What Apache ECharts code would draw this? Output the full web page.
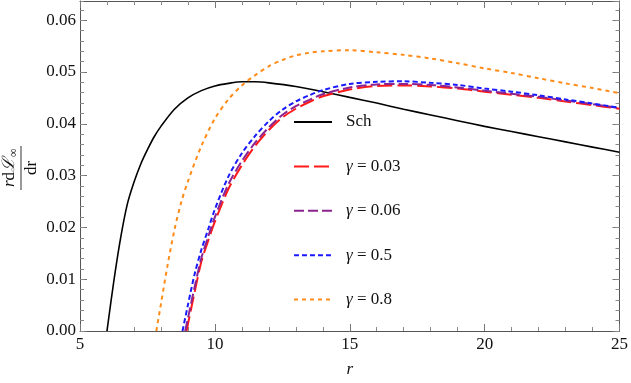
<!DOCTYPE html>
<html><head><meta charset="utf-8">
<script src="https://cdn.jsdelivr.net/npm/echarts@6/dist/echarts.min.js"></script>
<style>html,body{margin:0;padding:0;background:#fff}#c{width:631px;height:383px}</style>
</head><body><div id="c"></div>
<script>
// ---- data ----
const seriesNames = ['Sch', 'γ = 0.03', 'γ = 0.06', 'γ = 0.5', 'γ = 0.8'];
const xTicks = [5, 10, 15, 20, 25];
const yTicks = [0, 0.01, 0.02, 0.03, 0.04, 0.05, 0.06];

const rSch = [6, 6.25, 6.5, 6.75, 7, 7.25, 7.5, 7.75, 8, 8.5, 9, 9.5, 10, 10.5, 11, 11.5, 12, 13, 14, 15, 16, 17, 18, 19, 20, 21, 22, 23, 24, 25];
const vSch = [0, 0.0095, 0.0178, 0.0244, 0.0287, 0.0322, 0.0350, 0.0375, 0.0395, 0.0428, 0.0450, 0.0464, 0.0473, 0.0478, 0.0481, 0.0481, 0.0479, 0.0472, 0.0462, 0.0451, 0.0440, 0.0428, 0.0417, 0.0406, 0.0395, 0.0385, 0.0375, 0.0365, 0.0355, 0.0345];

const rG003 = [8.95, 9, 9.25, 9.5, 9.75, 10, 10.5, 11, 11.5, 12, 12.5, 13, 13.5, 14, 15, 16, 17, 18, 19, 20, 21, 22, 23, 24, 25];
const vG003 = [0, 0.0013, 0.0075, 0.0134, 0.0174, 0.0211, 0.0274, 0.0320, 0.0358, 0.0388, 0.0412, 0.0429, 0.0442, 0.0453, 0.0466, 0.0473, 0.0474, 0.0472, 0.0468, 0.0462, 0.0456, 0.0450, 0.0443, 0.0436, 0.0429];

const rG006 = [8.9, 9, 9.25, 9.5, 9.75, 10, 10.5, 11, 11.5, 12, 12.5, 13, 13.5, 14, 15, 16, 17, 18, 19, 20, 21, 22, 23, 24, 25];
const vG006 = [0, 0.0024, 0.0085, 0.0141, 0.0182, 0.0220, 0.0283, 0.0328, 0.0364, 0.0393, 0.0417, 0.0434, 0.0446, 0.0457, 0.0470, 0.0476, 0.0477, 0.0475, 0.0470, 0.0464, 0.0458, 0.0452, 0.0445, 0.0438, 0.0430];

const rG05 = [8.8, 9, 9.25, 9.5, 9.75, 10, 10.5, 11, 11.5, 12, 12.5, 13, 13.5, 14, 15, 16, 17, 18, 19, 20, 21, 22, 23, 24, 25];
const vG05 = [0, 0.0050, 0.0110, 0.0157, 0.0196, 0.0235, 0.0298, 0.0343, 0.0377, 0.0405, 0.0427, 0.0443, 0.0455, 0.0465, 0.0477, 0.0481, 0.0482, 0.0479, 0.0475, 0.0468, 0.0462, 0.0455, 0.0447, 0.0439, 0.0431];

const rG08 = [7.83, 8, 8.25, 8.5, 8.75, 9, 9.5, 10, 10.5, 11, 11.5, 12, 12.5, 13, 13.5, 14, 15, 16, 17, 18, 19, 20, 21, 22, 23, 24, 25];
const vG08 = [0, 0.0052, 0.0128, 0.0195, 0.0248, 0.0289, 0.0357, 0.0410, 0.0447, 0.0474, 0.0494, 0.0511, 0.0523, 0.0532, 0.0537, 0.0540, 0.0542, 0.0538, 0.0533, 0.0526, 0.0517, 0.0507, 0.0498, 0.0488, 0.0478, 0.0469, 0.0459];

const rs = [rSch, rG003, rG006, rG05, rG08];
const vs = [vSch, vG003, vG006, vG05, vG08];
// ---- styles ----
const colors = ['#000000', '#ff1a1a', '#8b2391', '#1a1aff', '#ff8c1a'];
const dashes = ['solid', [15, 5], [10, 4], [5, 3], [4, 4]];
const widths = [1.6, 2, 2, 2, 2];

const FONT = "'Liberation Serif','DejaVu Serif',serif";
const XMIN = 5, XMAX = 25, YMIN = 0, YMAX = 0.0637;
const axisCol = '#555';

function xAx(pos, labels) {
  return {
    type: 'value', min: XMIN, max: XMAX, interval: 5, position: pos,
    axisLine: {show: true, onZero: false, lineStyle: {color: axisCol, width: 1}},
    axisTick: {show: true, inside: true, length: 7, lineStyle: {color: '#777'}},
    minorTick: {show: true, splitNumber: 5, length: 4, lineStyle: {color: '#888'}},
    splitLine: {show: false}, minorSplitLine: {show: false},
    axisLabel: labels ? {show: true, fontFamily: FONT, fontSize: 17, color: '#111', margin: 5,
      formatter: v => xTicks.includes(v) ? String(v) : ''} : {show: false},
    name: labels ? 'r' : '', nameLocation: 'middle', nameGap: 30,
    nameTextStyle: {fontFamily: FONT, fontSize: 17, fontStyle: 'italic', color: '#111'}
  };
}
function yAx(pos, major, labels) {
  return {
    type: 'value', min: YMIN, max: YMAX, interval: major ? 0.01 : 0.002, position: pos,
    axisLine: {show: major, onZero: false, lineStyle: {color: axisCol, width: 1}},
    axisTick: {show: true, inside: true, length: major ? 7 : 4, lineStyle: {color: major ? '#777' : '#888'}},
    splitLine: {show: false},
    axisLabel: labels ? {show: true, fontFamily: FONT, fontSize: 17, color: '#111', margin: 4, showMaxLabel: false,
      formatter: v => { const t = yTicks.find(k => Math.abs(k - v) < 1e-9); return t === undefined ? '' : t.toFixed(2); }} : {show: false}
  };
}

const series = seriesNames.map((n, i) => ({
  name: n, type: 'line', xAxisIndex: 0, yAxisIndex: 0,
  data: rs[i].map((r, j) => [r, vs[i][j]]),
  showSymbol: false, symbol: 'none', smooth: 0.3, clip: true,
  lineStyle: {color: colors[i], width: widths[i], type: dashes[i]},
  itemStyle: {color: colors[i]},
  emphasis: {disabled: true}, animation: false
}));

const chart = echarts.init(document.getElementById('c'), null, {renderer: 'canvas'});
chart.setOption({
  animation: false,
  grid: {left: 80, right: 9, top: 1, bottom: 48, containLabel: false},
  xAxis: [xAx('bottom', true), xAx('top', false)],
  yAxis: [yAx('left', true, true), yAx('left', false, false), yAx('right', true, false), yAx('right', false, false)],
  legend: {
    orient: 'vertical', left: 293, top: 113, padding: 0,
    itemWidth: 38, itemHeight: 18, itemGap: 26.4,
    itemStyle: {opacity: 0, borderWidth: 0},
    data: seriesNames,
    textStyle: {fontFamily: FONT, fontSize: 17, color: '#111', padding: [0, 0, 0, 9], lineHeight: 18,
      rich: {g: {fontFamily: FONT, fontSize: 17, fontStyle: 'italic', color: '#111'}}},
    formatter: n => n.replace('γ', '{g|γ}'),
    selectedMode: false
  },
  graphic: [{
    type: 'group', x: 21, y: 168, rotation: Math.PI / 2,
    children: [
      {type: 'text', x: 10, y: -3, style: {
        text: '{i|r}d{L|ℒ}', align: 'right', verticalAlign: 'bottom',
        fontFamily: FONT, fontSize: 17, fill: '#111',
        rich: {i: {fontStyle: 'italic', fontFamily: FONT, fontSize: 17},
               L: {fontFamily: FONT, fontSize: 17, fontStyle: 'italic'}}}},
      {type: 'text', x: 11, y: -1, style: {text: '∞', align: 'left', verticalAlign: 'bottom',
        fontFamily: FONT, fontSize: 12, fill: '#111'}},
      {type: 'line', shape: {x1: -22, y1: 0, x2: 22, y2: 0}, style: {stroke: '#333', lineWidth: 1}},
      {type: 'text', x: 0, y: 2, style: {text: 'dr', align: 'center', verticalAlign: 'top',
        fontFamily: FONT, fontSize: 17, fill: '#111'}}
    ]
  }],
  series: series
});
</script>
</body></html>
